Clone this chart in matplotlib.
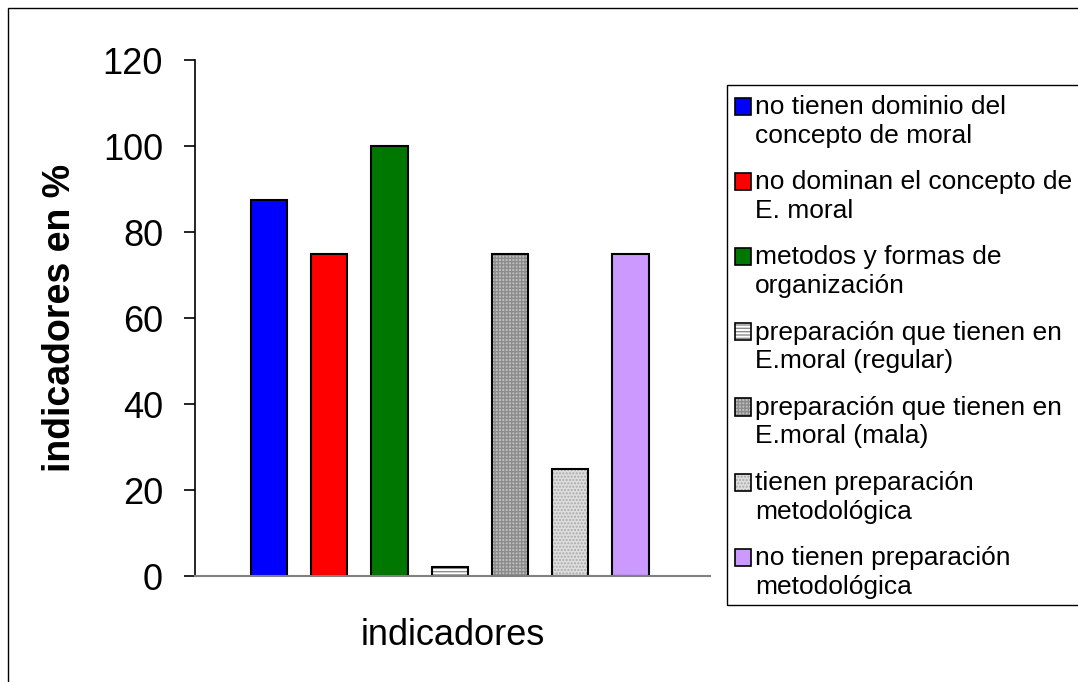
import matplotlib.pyplot as plt
from matplotlib.patches import Rectangle, Patch
from matplotlib.legend_handler import HandlerPatch

plt.rcParams['font.family'] = ['Liberation Sans', 'DejaVu Sans']

# data
labels = ['no tienen dominio del\nconcepto de moral',
          'no dominan el concepto de\nE. moral',
          'metodos y formas de\norganización',
          'preparación que tienen en\nE.moral (regular)',
          'preparación que tienen en\nE.moral (mala)',
          'tienen preparación\nmetodológica',
          'no tienen preparación\nmetodológica']
values = [87.5, 75, 100, 2, 75, 25, 75]
faces = ['#0000ff', '#ff0000', '#007700', '#ffffff', '#c0c0c0', '#dedede', '#cc99ff']
hatches = [None, None, None, '-----', '+++++', '.....', None]
hatch_cols = ['black', 'black', 'black', '#8c8c8c', '#8c8c8c', '#a8a8a8', 'black']

W, H = 1078, 682
fig = plt.figure(figsize=(W / 100, H / 100), dpi=100)
ax = fig.add_axes([195 / W, 1 - 576 / H, 515 / W, 516 / H])

xs = range(len(values))
handles = []
for x, v, fc, h, hc, lab in zip(xs, values, faces, hatches, hatch_cols, labels):
    if h:
        ax.bar(x, v, width=0.6, color=fc, hatch=h, edgecolor=hc, linewidth=0)
        ax.bar(x, v, width=0.6, color='none', edgecolor='black', linewidth=1.5)
        handles.append((Patch(facecolor=fc, hatch=h, edgecolor=hc, linewidth=0),
                        Patch(facecolor='none', edgecolor='black', linewidth=1.2)))
    else:
        ax.bar(x, v, width=0.6, color=fc, edgecolor='black', linewidth=1.5)
        handles.append(Patch(facecolor=fc, edgecolor='black', linewidth=1.2))

ax.set_xlim(-1.227, 7.318)
ax.set_ylim(0, 120)
ax.set_yticks(range(0, 121, 20))
ax.tick_params(axis='y', labelsize=26, length=8, width=1.2, direction='out', pad=15)
ax.set_xticks([])
for s in ['top', 'right']:
    ax.spines[s].set_visible(False)
ax.spines['bottom'].set_color('#808080')
ax.spines['bottom'].set_linewidth(1.5)
ax.spines['left'].set_linewidth(1.2)
ax.set_ylabel('indicadores en %', fontsize=27, fontweight='bold', labelpad=18)
ax.set_xlabel('indicadores', fontsize=26, labelpad=30)


# square next to the first line of each entry, not centred on both lines
def first_line_box(legend, orig_handle, xdescent, ydescent, width, height, fontsize):
    return Rectangle((-xdescent, -ydescent + 11), width, height)


# legend box runs past the right edge in the original
fig.patches.append(Rectangle((727 / W, 1 - 605 / H), 400 / W, 520 / H,
                             transform=fig.transFigure, fill=False,
                             edgecolor='black', linewidth=1.0))
leg = fig.legend(handles=handles, labels=labels, loc='upper left',
                 bbox_to_anchor=(735 / W, 1 - 95 / H),
                 handler_map={Patch: HandlerPatch(patch_func=first_line_box)},
                 fontsize=19, frameon=False,
                 handlelength=0.62, handleheight=0.62, handletextpad=0.15,
                 labelspacing=0.85, borderpad=0, borderaxespad=0)
for t in leg.get_texts():
    t.set_linespacing(1.25)

# outer frame, right and bottom sides fall outside the picture
fig.patches.append(Rectangle((8 / W, -0.01), 1.1, 1 - 8 / H + 0.01,
                             transform=fig.transFigure, fill=False,
                             edgecolor='black', linewidth=1.0))

fig.savefig('out.png', dpi=100)
